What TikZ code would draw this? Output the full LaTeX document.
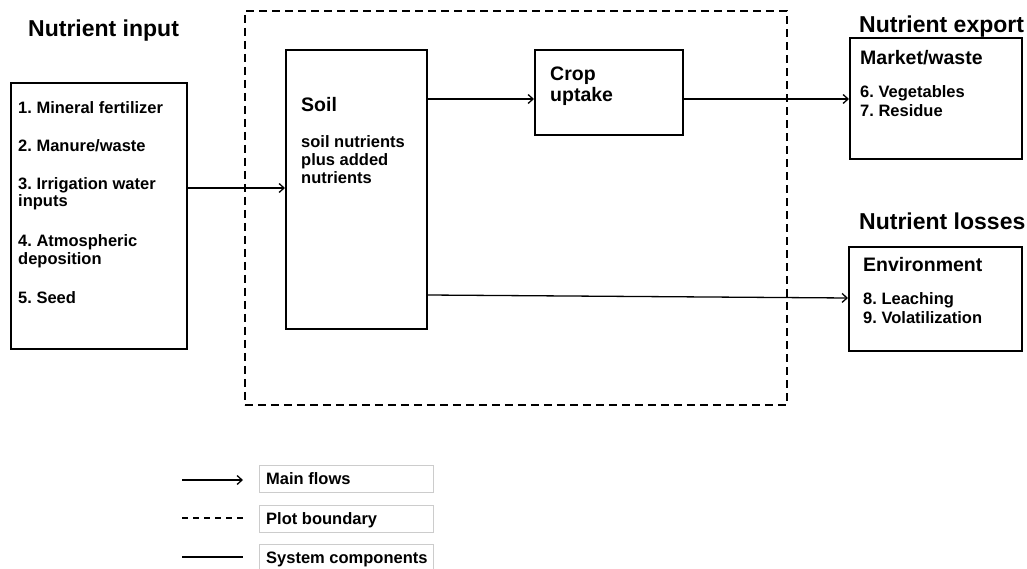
\documentclass[tikz,border=0pt]{standalone}
\usepackage{fontspec}
\setmainfont{Liberation Sans}
\usetikzlibrary{arrows.meta}
\frenchspacing
\begin{document}
\begin{tikzpicture}[x=1pt,y=-1pt,
  box/.style={draw, line width=1.6pt, anchor=north west, inner sep=0},
  plotline/.style={draw, line width=1.8pt, dash pattern=on 8pt off 5pt},
  flow/.style={line width=1.3pt, -{Straight Barb[length=5pt,width=9pt,line width=1.3pt]}},
  ttl/.style={anchor=base west, inner sep=0, font=\bfseries\fontsize{23}{23}\selectfont},
  sub/.style={anchor=base west, inner sep=0, font=\bfseries\fontsize{19.5}{19.5}\selectfont},
  txt/.style={anchor=base west, inner sep=0, font=\bfseries\fontsize{16.5}{16.5}\selectfont},
  legbox/.style={draw=black!20, line width=0.8pt, anchor=north west, inner sep=0,
    minimum width=174pt, minimum height=27pt}]
\useasboundingbox (0,0) rectangle (1027,569);

% plot boundary
\node[plotline, anchor=north west, inner sep=0, minimum width=542pt, minimum height=394pt] (plot) at (244,10) {};

% nutrient input
\node[ttl] (tin) at (28,37) {Nutrient input};
\node[box, minimum width=176pt, minimum height=266pt] (input) at (10,82) {};
\node[txt] (i1) at (18,114) {1. Mineral fertilizer};
\node[txt] (i2) at (18,152) {2. Manure/waste};
\node[txt] (i3) at (18,190) {3. Irrigation water};
\node[txt] (i3b) at (18,207) {inputs};
\node[txt] (i4) at (18,247) {4. Atmospheric};
\node[txt] (i4b) at (18,264) {deposition};
\node[txt] (i5) at (18,303) {5. Seed};

% soil
\node[box, minimum width=141pt, minimum height=279pt] (soil) at (285,49) {};
\node[sub] (s0) at (301,112) {Soil};
\node[txt] (s1) at (301,148) {soil nutrients};
\node[txt] (s2) at (301,166) {plus added};
\node[txt] (s3) at (301,184) {nutrients};

% crop
\node[box, minimum width=148pt, minimum height=85pt] (crop) at (534,49) {};
\node[sub] (c1) at (550,81) {Crop};
\node[sub] (c2) at (550,102) {uptake};

% nutrient export
\node[ttl] (tex) at (859,33) {Nutrient export};
\node[box, minimum width=172pt, minimum height=121pt] (market) at (849,37) {};
\node[sub] (m0) at (860,65) {Market/waste};
\node[txt] (m1) at (860,98) {6. Vegetables};
\node[txt] (m2) at (860,117) {7. Residue};

% nutrient losses
\node[ttl] (tlo) at (859,230) {Nutrient losses};
\node[box, minimum width=173pt, minimum height=104pt] (env) at (848,246) {};
\node[sub] (e0) at (863,271) {Environment};
\node[txt] (e1) at (863,304) {8. Leaching};
\node[txt] (e2) at (863,323) {9. Volatilization};

% flows
\draw[flow] (input.east |- 0,188) -- (soil.west |- 0,188);
\draw[flow] (soil.east |- 0,99) -- (crop.west |- 0,99);
\draw[flow] (crop.east |- 0,99) -- (market.west |- 0,99);
\draw[flow] (soil.east |- 0,295) -- (env.west |- 0,298);

% legend
\coordinate (la1) at (182,480); \coordinate (la2) at (243,480);
\coordinate (lb1) at (182,518); \coordinate (lb2) at (243,518);
\coordinate (lc1) at (182,557); \coordinate (lc2) at (243,557);
\draw[flow] (la1) -- (la2);
\draw[line width=1.3pt, dash pattern=on 6pt off 5pt] (lb1) -- (lb2);
\draw[line width=1.3pt] (lc1) -- (lc2);
\node[legbox] (lg1) at (259,465) {};
\node[legbox] (lg2) at (259,505) {};
\node[legbox] (lg3) at (259,544) {};
\node[txt] at (266,484) {Main flows};
\node[txt] at (266,524) {Plot boundary};
\node[txt] at (266,563) {System components};
\end{tikzpicture}
\end{document}
